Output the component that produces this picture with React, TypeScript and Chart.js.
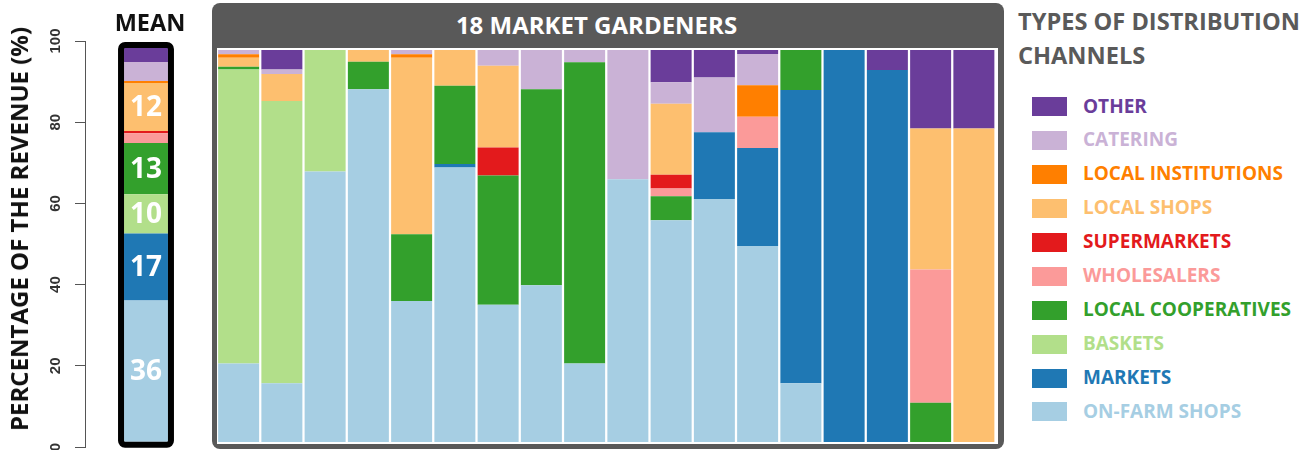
import React, { useEffect, useRef } from "react";
import { Chart, registerables } from "chart.js";

Chart.register(...registerables);

// Distribution channels, stacked bottom -> top
const channels = [
  "ON-FARM SHOPS",
  "MARKETS",
  "BASKETS",
  "LOCAL COOPERATIVES",
  "WHOLESALERS",
  "SUPERMARKETS",
  "LOCAL SHOPS",
  "LOCAL INSTITUTIONS",
  "CATERING",
  "OTHER",
];
const colors = [
  "#a6cee3",
  "#1f78b4",
  "#b2df8a",
  "#33a02c",
  "#fb9a99",
  "#e31a1c",
  "#fdbf6f",
  "#ff7f00",
  "#cab2d6",
  "#6a3d9a",
];

const gardeners = ["1", "2", "3", "4", "5", "6", "7", "8", "9", "10", "11", "12", "13", "14", "15", "16", "17", "18"];

// Share of revenue (%) per market gardener
const onFarmShops = [20, 15, 69, 90, 36, 70, 35, 40, 20, 67, 56.6, 62, 50, 15, 0, 0, 0, 0];
const markets = [0, 0, 0, 0, 0, 0.9, 0, 0, 0, 0, 0, 17, 25, 74.8, 100, 94.9, 0, 0];
const baskets = [75, 72, 31, 0, 0, 0, 0, 0, 0, 0, 0, 0, 0, 0, 0, 0, 0, 0];
const localCooperatives = [0.7, 0, 0, 7, 17, 20, 33, 50, 76.9, 0, 6.1, 0, 0, 10.2, 0, 0, 10, 0];
const wholesalers = [0, 0, 0, 0, 0, 0, 0, 0, 0, 0, 2, 0, 8, 0, 0, 0, 34, 0];
const supermarkets = [0, 0, 0, 0, 0, 0, 7.1, 0, 0, 0, 3.5, 0, 0, 0, 0, 0, 0, 0];
const localShops = [2.3, 6.9, 0, 3, 45, 9.1, 20.9, 0, 0, 0, 18.1, 0, 0, 0, 0, 0, 36, 80];
const localInstitutions = [0.9, 0, 0, 0, 0.9, 0, 0, 0, 0, 0, 0, 0, 8, 0, 0, 0, 0, 0];
const catering = [1.1, 1.1, 0, 0, 1.1, 0, 4.0, 10, 3.1, 33, 5.5, 14, 8, 0, 0, 0, 0, 0];
const other = [0, 5, 0, 0, 0, 0, 0, 0, 0, 0, 8.2, 7, 1, 0, 0, 5.1, 20, 20];

// Mean share (%) per channel, same order as channels
const meanValues = [35.9, 17, 10, 13, 2.5, 0.6, 12.2, 0.5, 4.8, 3.6];

const yTicks = [0, 20, 40, 60, 80, 100];

const seriesList = [
  onFarmShops,
  markets,
  baskets,
  localCooperatives,
  wholesalers,
  supermarkets,
  localShops,
  localInstitutions,
  catering,
  other,
];

const FONT = "'Open Sans', sans-serif";

const meanPlugin = {
  id: "meanFrame",
  afterDatasetsDraw(chart: any) {
    const ctx = chart.ctx;
    const n = chart.data.datasets.length;
    const first = chart.getDatasetMeta(0).data[0];
    const last = chart.getDatasetMeta(n - 1).data[0];
    const p0 = first.getProps(["x", "width", "base"], true);
    const pl = last.getProps(["y"], true);
    const lw = 6;
    const left = p0.x - p0.width / 2 - lw / 2;
    const right = p0.x + p0.width / 2 + lw / 2;
    const top = pl.y - lw / 2;
    const bottom = p0.base + lw / 2;
    ctx.save();
    ctx.lineWidth = lw;
    ctx.strokeStyle = "#000";
    ctx.lineJoin = "round";
    ctx.beginPath();
    ctx.roundRect(left, top, right - left, bottom - top, 4);
    ctx.stroke();
    ctx.fillStyle = "#fff";
    ctx.font = "bold 28px 'Open Sans', sans-serif";
    ctx.textAlign = "center";
    ctx.textBaseline = "middle";
    chart.data.datasets.forEach((ds: any, i: number) => {
      const v = ds.data[0];
      if (v < 8) return;
      const el = chart.getDatasetMeta(i).data[0];
      const p = el.getProps(["x", "y", "base"], true);
      ctx.fillText(String(Math.round(v)), p.x, (p.y + p.base) / 2 + 1);
    });
    ctx.restore();
  },
};

function MeanChart() {
  const ref = useRef<HTMLCanvasElement>(null);
  useEffect(() => {
    const chart = new Chart(ref.current as HTMLCanvasElement, {
      type: "bar",
      data: {
        labels: ["MEAN"],
        datasets: channels.map((c, i) => ({
          label: c,
          data: [meanValues[i]],
          backgroundColor: colors[i],
          borderWidth: 0,
          yAxisID: "yb",
          barPercentage: 0.36,
          categoryPercentage: 1,
        })),
      },
      options: {
        responsive: false,
        animation: false,
        layout: { padding: { top: 41, bottom: 23, left: 0, right: 3 } },
        plugins: { legend: { display: false }, tooltip: { enabled: false } },
        scales: {
          x: { stacked: true, display: false },
          y: {
            position: "left",
            min: 0,
            max: 100,
            afterBuildTicks: (s: any) => {
              s.ticks = yTicks.map((v) => ({ value: v }));
            },
            ticks: {
              minRotation: 90,
              maxRotation: 90,
              crossAlign: "center",
              padding: 7,
              color: "#333",
              font: { family: "'Liberation Sans', Arial, sans-serif", weight: "bold", size: 15 },
            },
            grid: { drawOnChartArea: false, tickLength: 10, color: "#555", tickColor: "#555" },
            border: { display: true, color: "#555", width: 1 },
            afterFit: (s: any) => {
              s.width = 85;
            },
          },
          yb: { stacked: true, display: false, min: -1.35, max: 101.86 },
        },
      } as any,
      plugins: [meanPlugin],
    });
    return () => chart.destroy();
  }, []);
  return (
    <canvas
      ref={ref}
      width={210}
      height={470}
      style={{ position: "absolute", left: 0, top: 0, width: 210, height: 470 }}
    />
  );
}

function MainChart() {
  const ref = useRef<HTMLCanvasElement>(null);
  useEffect(() => {
    const chart = new Chart(ref.current as HTMLCanvasElement, {
      type: "bar",
      data: {
        labels: gardeners,
        datasets: channels.map((c, i) => ({
          label: c,
          data: seriesList[i],
          backgroundColor: colors[i],
          borderWidth: 0,
          barPercentage: 0.948,
          categoryPercentage: 1,
        })),
      },
      options: {
        responsive: false,
        animation: false,
        layout: { padding: { top: 2, bottom: 2, left: 0, right: 2.5 } },
        plugins: { legend: { display: false }, tooltip: { enabled: false } },
        scales: {
          x: { stacked: true, display: false },
          y: { stacked: true, display: false, min: 0, max: 100 },
        },
      } as any,
    });
    return () => chart.destroy();
  }, []);
  return (
    <canvas
      ref={ref}
      width={781}
      height={396}
      style={{ position: "absolute", left: 217, top: 48, width: 781, height: 396, background: "#fff" }}
    />
  );
}

function Txt(props: {
  x: number;
  y: number;
  size: number;
  color: string;
  center?: boolean;
  rotate?: boolean;
  children: React.ReactNode;
}) {
  const { x, y, size, color, center, rotate, children } = props;
  let transform = center ? "translate(-50%,-50%)" : "translate(0,-50%)";
  if (rotate) transform += " rotate(-90deg)";
  return (
    <div
      style={{
        position: "absolute",
        left: x,
        top: y,
        transform,
        whiteSpace: "nowrap",
        fontFamily: FONT,
        fontWeight: 700,
        fontSize: size,
        lineHeight: 1,
        color,
      }}
    >
      {children}
    </div>
  );
}

export default function App() {
  const legendOrder = [...channels.keys()].reverse();
  return (
    <div
      style={{
        position: "fixed",
        left: 0,
        top: 0,
        width: 1304,
        height: 450,
        overflow: "hidden",
        background: "#fff",
      }}
    >
      <MeanChart />
      <Txt x={19} y={229} size={24} color="#111" center rotate>
        PERCENTAGE OF THE REVENUE (%)
      </Txt>
      <Txt x={150} y={23} size={23.5} color="#111" center>
        MEAN
      </Txt>
      <div
        style={{
          position: "absolute",
          left: 212,
          top: 3,
          width: 792,
          height: 446,
          background: "#595959",
          borderRadius: 8,
        }}
      />
      <MainChart />
      <Txt x={596.5} y={25} size={24} color="#fff" center>
        18 MARKET GARDENERS
      </Txt>
      <Txt x={1018} y={22} size={23.6} color="#5a5a5a">
        TYPES OF DISTRIBUTION
      </Txt>
      <Txt x={1018} y={56} size={23.6} color="#5a5a5a">
        CHANNELS
      </Txt>
      {legendOrder.map((ci, row) => {
        const cy = 106.5 + row * 33.94;
        return (
          <React.Fragment key={ci}>
            <div
              style={{
                position: "absolute",
                left: 1032,
                top: cy - 9.5,
                width: 35,
                height: 19,
                background: colors[ci],
              }}
            />
            <Txt x={1083} y={cy - 1} size={19} color={colors[ci]}>
              {channels[ci]}
            </Txt>
          </React.Fragment>
        );
      })}
    </div>
  );
}
